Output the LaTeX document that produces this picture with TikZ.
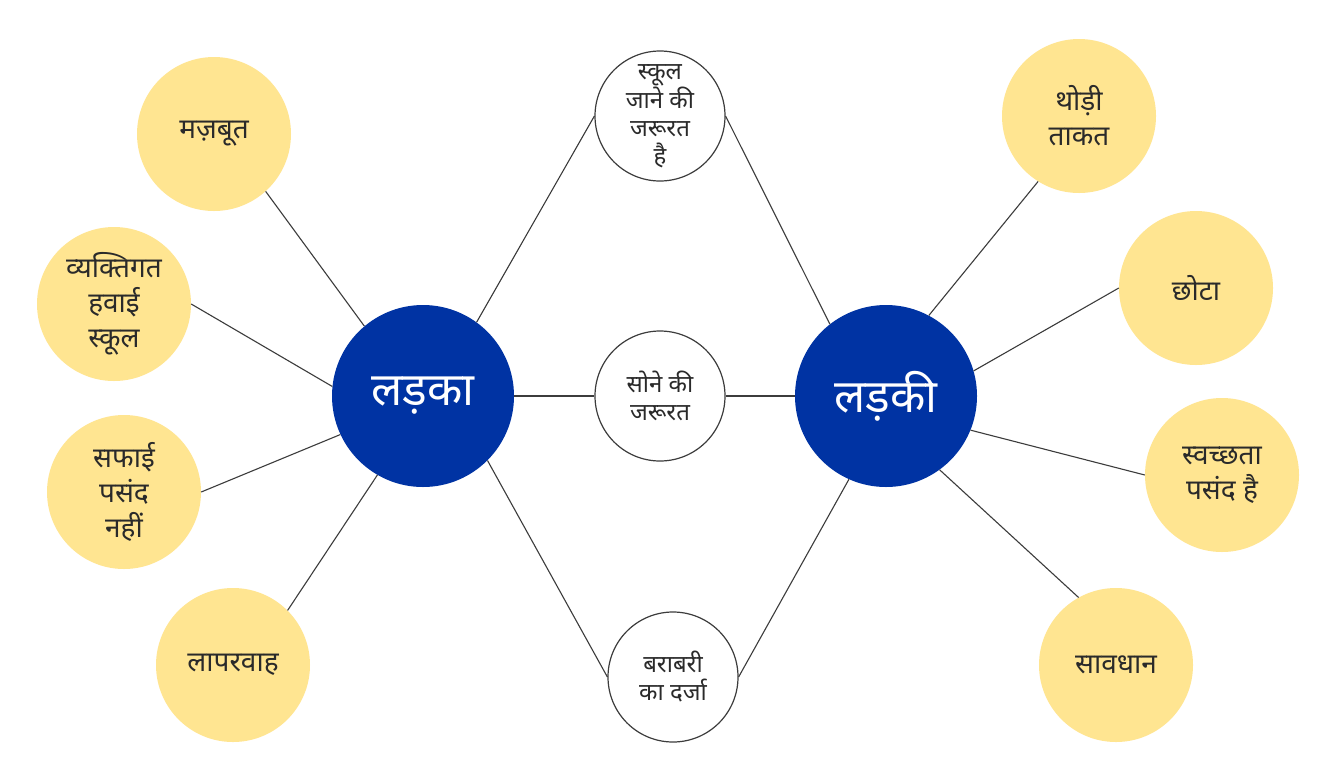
\documentclass[tikz,border=0pt]{standalone}
\usepackage{fontspec}
\newfontfamily\hindi[Script=Devanagari]{Noto Sans}
\definecolor{yel}{HTML}{FFE591}
\definecolor{navy}{HTML}{0033A3}
\definecolor{edgegray}{HTML}{3C3C3C}
\definecolor{txt}{HTML}{2A2A2A}
\begin{document}
\begin{tikzpicture}[x=1pt,y=-1pt,
  hub/.style={circle, fill=navy, minimum size=182pt, inner sep=0pt, text=white,
    font=\hindi\fontsize{46}{50}\selectfont},
  leaf/.style={circle, fill=yel, minimum size=154pt, inner sep=0pt, align=center,
    text=txt, font=\hindi\fontsize{28}{35}\selectfont},
  mid/.style={circle, draw=edgegray, line width=1.2pt, fill=white, minimum size=130pt,
    inner sep=0pt, align=center, text=txt, font=\hindi\fontsize{24}{28}\selectfont},
  link/.style={draw=edgegray, line width=1.1pt}]
\useasboundingbox[fill=white] (0,0) rectangle (1338,780);

% hubs
\node[hub] (boy) at (423,396) {लड़का};
\node[hub] (girl) at (886,396) {लड़की};

% middle
\node[mid] (school) at (660,116) {स्कूल\\जाने की\\जरूरत\\है};
\node[mid] (sleep) at (660,396) {सोने की\\जरूरत};
\node[mid] (equal) at (673,677) {बराबरी\\का दर्जा};

% left leaves
\node[leaf] (strong) at (214,134) {मज़बूत};
\node[leaf] (personal) at (114,304) {व्यक्तिगत\\हवाई\\स्कूल};
\node[leaf] (noclean) at (124,492) {सफाई\\पसंद\\नहीं};
\node[leaf] (careless) at (233,665) {लापरवाह};

% right leaves
\node[leaf] (little) at (1079,116) {थोड़ी\\ताकत};
\node[leaf] (small) at (1196,288) {छोटा};
\node[leaf] (clean) at (1222,475) {स्वच्छता\\पसंद है};
\node[leaf] (careful) at (1116,665) {सावधान};

% connectors
\draw[link] (boy.130) -- (strong.312);
\draw[link] (boy.174) -- (personal.east);
\draw[link] (boy.205) -- (noclean.east);
\draw[link] (boy.240) -- (careless.45);
\draw[link] (boy.54) -- (school.west);
\draw[link] (boy.east) -- (sleep.west);
\draw[link] (boy.-45) -- (equal.west);
\draw[link] (girl.128) -- (school.east);
\draw[link] (girl.west) -- (sleep.east);
\draw[link] (girl.-114) -- (equal.east);
\draw[link] (girl.62) -- (little.238);
\draw[link] (girl.16) -- (small.west);
\draw[link] (girl.-22) -- (clean.west);
\draw[link] (girl.-54) -- (careful.119);
\end{tikzpicture}
\end{document}
